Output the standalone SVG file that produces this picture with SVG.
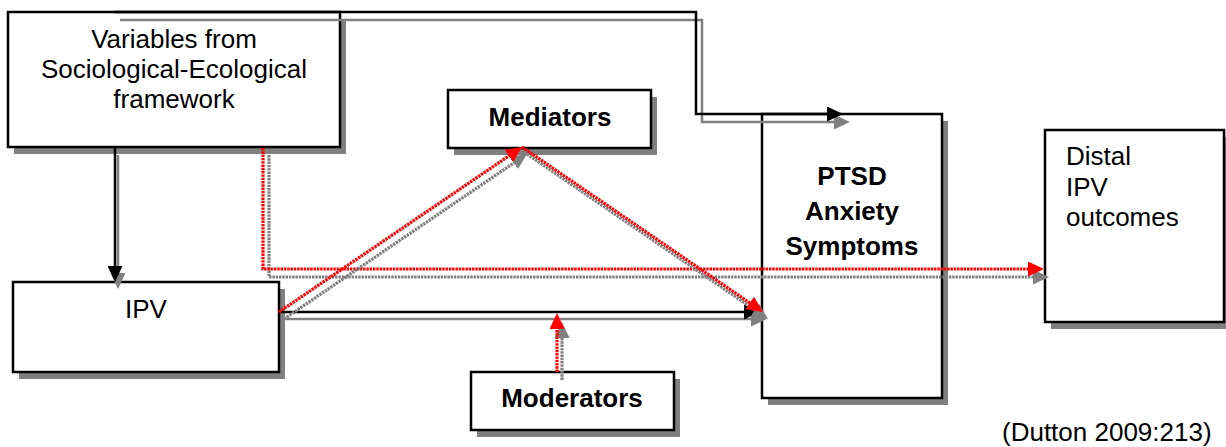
<svg xmlns="http://www.w3.org/2000/svg" width="1226" height="447" viewBox="0 0 1226 447">
  <style>
    .shadow { fill: #808080; }
    .box { fill: #ffffff; stroke: #000000; stroke-width: 2.5; }
    .txt { font-family: "Liberation Sans", Arial, sans-serif; font-size: 26px; fill: #000000; }
    .bold { font-weight: bold; }
    .solid-k { fill: none; stroke: #000000; stroke-width: 2.5; marker-end: url(#ahK); }
    .solid-g { fill: none; stroke: #808080; stroke-width: 2.5; marker-end: url(#ahG); }
    .dot-r { fill: none; stroke: #ff0000; stroke-width: 3.2; stroke-dasharray: 2.4 0.9; marker-end: url(#ahR); }
    .dot-g { fill: none; stroke: #808080; stroke-width: 3.2; stroke-dasharray: 2.4 0.9; marker-end: url(#ahG); }
  </style>
  <defs>
    <marker id="ahK" markerUnits="userSpaceOnUse" markerWidth="16" markerHeight="15" refX="12" refY="7.5" orient="auto">
      <path d="M0,0 L16,7.5 L0,15 z" fill="#000000"/>
    </marker>
    <marker id="ahG" markerUnits="userSpaceOnUse" markerWidth="16" markerHeight="15" refX="12" refY="7.5" orient="auto">
      <path d="M0,0 L16,7.5 L0,15 z" fill="#808080"/>
    </marker>
    <marker id="ahR" markerUnits="userSpaceOnUse" markerWidth="16" markerHeight="15" refX="12" refY="7.5" orient="auto">
      <path d="M0,0 L16,7.5 L0,15 z" fill="#ff0000"/>
    </marker>
  </defs>

  <rect width="1226" height="447" fill="#ffffff"/>

  <!-- Nodes -->
  <g id="variables">
    <rect class="shadow" x="14" y="19" width="332" height="135"/>
    <rect class="box" x="8" y="12" width="332" height="135"/>
    <text class="txt" x="174" y="48" text-anchor="middle">Variables from</text>
    <text class="txt" x="174" y="78" text-anchor="middle">Sociological-Ecological</text>
    <text class="txt" x="174" y="108" text-anchor="middle">framework</text>
  </g>

  <g id="ipv">
    <rect class="shadow" x="19" y="289" width="266" height="90"/>
    <rect class="box" x="13" y="282" width="266" height="90"/>
    <text class="txt" x="146" y="318" text-anchor="middle">IPV</text>
  </g>

  <g id="mediators">
    <rect class="shadow" x="454" y="97" width="203" height="58"/>
    <rect class="box" x="448" y="90" width="203" height="58"/>
    <text class="txt bold" x="550" y="126" text-anchor="middle">Mediators</text>
  </g>

  <g id="moderators">
    <rect class="shadow" x="477" y="379" width="203" height="58"/>
    <rect class="box" x="471" y="372" width="203" height="58"/>
    <text class="txt bold" x="572" y="407" text-anchor="middle">Moderators</text>
  </g>

  <g id="ptsd">
    <rect class="shadow" x="768" y="121" width="180" height="284"/>
    <rect class="box" x="762" y="114" width="180" height="284"/>
    <text class="txt bold" x="852" y="185" text-anchor="middle">PTSD</text>
    <text class="txt bold" x="852" y="220" text-anchor="middle">Anxiety</text>
    <text class="txt bold" x="852" y="255" text-anchor="middle">Symptoms</text>
  </g>

  <g id="distal">
    <rect class="shadow" x="1051" y="137" width="179" height="192"/>
    <rect class="box" x="1045" y="130" width="179" height="192"/>
    <text class="txt" x="1066" y="165">Distal</text>
    <text class="txt" x="1066" y="196">IPV</text>
    <text class="txt" x="1066" y="226">outcomes</text>
  </g>

  <!-- Connectors (gray shadow copies drawn beneath) -->
  <g id="connectors">
    <!-- Variables to PTSD -->
    <path class="solid-g" d="M120,20 H702 V122 H846"/>
    <path class="solid-k" d="M114,12 H696 V114 H839"/>
    <!-- Variables to IPV -->
    <path class="solid-g" d="M118,155 V285"/>
    <path class="solid-k" d="M115,148 V278"/>
    <!-- Variables to Distal outcomes -->
    <path class="dot-g" d="M269,155 V277 H1045"/>
    <path class="dot-r" d="M263,148 V269 H1040"/>
    <!-- IPV to PTSD -->
    <path class="solid-g" d="M284,319 H763"/>
    <path class="solid-k" d="M279,312 H756"/>
    <!-- IPV to Mediators -->
    <path class="dot-g" d="M284,319 L523.7,156.2"/>
    <path class="dot-r" d="M279,312 L518.7,149.2"/>
    <!-- Mediators to PTSD -->
    <path class="dot-g" d="M527,154 L764.7,316.7"/>
    <path class="dot-r" d="M522,147 L759.7,309.7"/>
    <!-- Moderators to IPV-PTSD path -->
    <path class="dot-g" d="M562,380 V326"/>
    <path class="dot-r" d="M557,372 V317"/>
  </g>

  <text class="txt" x="1002" y="441">(Dutton 2009:213)</text>
</svg>
